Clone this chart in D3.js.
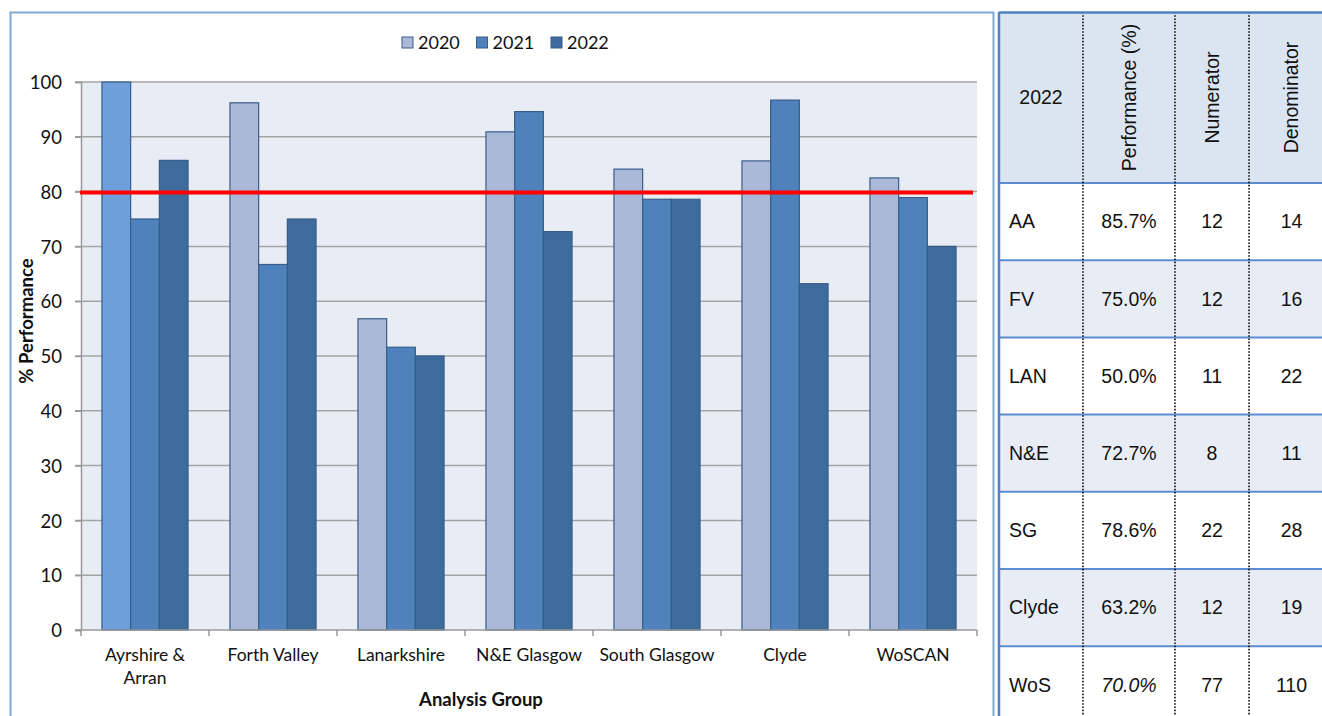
<!DOCTYPE html>
<html>
<head>
<meta charset="utf-8">
<script src="https://cdn.jsdelivr.net/npm/d3@7"></script>
<style>
    body { margin: 0; background: #fff; }
    svg { display: block; }
    .chart-text { font-family: Lato, "Open Sans", sans-serif; fill: #111; }
    .table-text { font-family: "Liberation Sans", Arial, sans-serif; fill: #111; }
</style>
</head>
<body>
<svg id="chart"></svg>
<script>
// chart data
const groups = ["Ayrshire & Arran", "Forth Valley", "Lanarkshire", "N&E Glasgow", "South Glasgow", "Clyde", "WoSCAN"];
const years = ["2020", "2021", "2022"];
const values2020 = [100, 96.2, 56.8, 90.9, 84.1, 85.6, 82.5];
const values2021 = [75, 66.7, 51.6, 94.6, 78.6, 96.7, 78.9];
const values2022 = [85.7, 75.0, 50.0, 72.7, 78.6, 63.2, 70.0];
const yTicks = [0, 10, 20, 30, 40, 50, 60, 70, 80, 90, 100];
const targetValue = 80;

// table data (2022)
const tableHeaders = ["2022", "Performance (%)", "Numerator", "Denominator"];
const tableCodes = ["AA", "FV", "LAN", "N&E", "SG", "Clyde", "WoS"];
const numerators = [12, 12, 11, 8, 22, 12, 77];
const denominators = [14, 16, 22, 11, 28, 19, 110];

const seriesByYear = { "2020": values2020, "2021": values2021, "2022": values2022 };

class GroupedBarChart {

    constructor(_config) {
        this.config = {
            parentElement: _config.parentElement,
            containerWidth: 1322,
            containerHeight: 716,
            plot: { left: 81, right: 977, top: 82, bottom: 630 },
            table: { left: 999, top: 12, headerHeight: 171, rowHeight: 77.2, columns: [999, 1083, 1175, 1249, 1334] },
        };
        this.initVis();
    }

    initVis() {
        const c = this.config;
        this.svg = d3.select(c.parentElement)
            .attr("width", c.containerWidth)
            .attr("height", c.containerHeight);

        this.x0 = d3.scaleBand().domain(groups).range([c.plot.left, c.plot.right]);
        this.x1 = d3.scaleBand().domain(years).range([0, this.x0.bandwidth()]).paddingOuter(0.73);
        this.y = d3.scaleLinear().domain([0, 100]).range([c.plot.bottom, c.plot.top]);
        this.colour = d3.scaleOrdinal().domain(years).range(["#aab9d7", "#4f81bd", "#3f6a9c"]);

        this.renderChart();
        this.renderTable();
    }

    renderChart() {
        const c = this.config;
        const chart = this.svg.append("g");

        // chart frame
        chart.append("rect")
            .attr("x", 10.5).attr("y", 12.5)
            .attr("width", 983).attr("height", 720)
            .attr("fill", "none")
            .attr("stroke", "#7ea6d6")
            .attr("stroke-width", 2);

        // plot background
        chart.append("rect")
            .attr("x", c.plot.left).attr("y", c.plot.top)
            .attr("width", c.plot.right - c.plot.left)
            .attr("height", c.plot.bottom - c.plot.top)
            .attr("fill", "#e8edf5");

        // gridlines
        chart.append("g")
            .selectAll("line")
            .data(yTicks.filter(d => d > 0))
            .join("line")
            .attr("x1", c.plot.left - 6).attr("x2", c.plot.right)
            .attr("y1", d => this.y(d)).attr("y2", d => this.y(d))
            .attr("stroke", "#a3a3a3")
            .attr("stroke-width", 1.5);

        // y axis
        const yAxis = chart.append("g")
            .attr("transform", `translate(${c.plot.left},0)`)
            .call(d3.axisLeft(this.y).tickValues(yTicks).tickSize(6).tickPadding(13));
        yAxis.select(".domain").attr("stroke", "#999").attr("stroke-width", 1.5);
        yAxis.selectAll(".tick line").attr("stroke", "#999").attr("stroke-width", 1.5);
        yAxis.selectAll(".tick text")
            .attr("class", "chart-text")
            .attr("font-size", 18.5)
            .attr("dy", "0.36em");

        // bars
        const barData = groups.flatMap((g, i) => years.map(yr => ({ group: g, year: yr, value: seriesByYear[yr][i] })));
        chart.append("g")
            .selectAll("rect")
            .data(barData)
            .join("rect")
            .attr("x", d => this.x0(d.group) + this.x1(d.year))
            .attr("y", d => this.y(d.value))
            .attr("width", this.x1.bandwidth())
            .attr("height", d => this.y(0) - this.y(d.value))
            .attr("fill", d => (d.group === groups[0] && d.year === "2020") ? "#6f9fda" : this.colour(d.year))
            .attr("stroke", "#385d8a")
            .attr("stroke-width", 1.2);

        // x axis
        const xAxis = chart.append("g")
            .attr("transform", `translate(0,${c.plot.bottom})`);
        xAxis.append("line")
            .attr("x1", c.plot.left - 6).attr("x2", c.plot.right)
            .attr("stroke", "#999").attr("stroke-width", 1.5);
        xAxis.selectAll(".xtick")
            .data(groups.map(g => this.x0(g)).concat([c.plot.right]))
            .join("line")
            .attr("class", "xtick")
            .attr("x1", d => d).attr("x2", d => d)
            .attr("y1", 0).attr("y2", 6)
            .attr("stroke", "#999").attr("stroke-width", 1.5);

        const labels = xAxis.selectAll(".xlabel")
            .data(groups)
            .join("text")
            .attr("class", "chart-text xlabel")
            .attr("font-size", 17.5)
            .attr("text-anchor", "middle")
            .attr("x", d => this.x0(d) + this.x0.bandwidth() / 2)
            .attr("y", 31);
        labels.each(function (d) {
            const lines = d === "Ayrshire & Arran" ? ["Ayrshire &", "Arran"] : [d];
            const t = d3.select(this);
            lines.forEach((l, i) => {
                t.append("tspan")
                    .attr("x", t.attr("x"))
                    .attr("dy", i === 0 ? 0 : 23)
                    .text(l);
            });
        });

        // target line
        chart.append("line")
            .attr("x1", c.plot.left - 1).attr("x2", c.plot.right - 4)
            .attr("y1", this.y(targetValue) + 1).attr("y2", this.y(targetValue) + 1)
            .attr("stroke", "#ff0000")
            .attr("stroke-width", 4);

        // axis titles
        chart.append("text")
            .attr("class", "chart-text")
            .attr("font-size", 18.5)
            .attr("font-weight", "bold")
            .attr("text-anchor", "middle")
            .attr("x", 481)
            .attr("y", 706)
            .text("Analysis Group");

        chart.append("text")
            .attr("class", "chart-text")
            .attr("font-size", 18.5)
            .attr("font-weight", "bold")
            .attr("text-anchor", "middle")
            .attr("transform", "translate(33,321) rotate(-90)")
            .text("% Performance");

        // legend
        const legend = chart.append("g")
            .selectAll("g")
            .data(years)
            .join("g")
            .attr("transform", (d, i) => `translate(${402 + i * 74.5},37)`);
        legend.append("rect")
            .attr("width", 11).attr("height", 11)
            .attr("fill", d => this.colour(d))
            .attr("stroke", "#385d8a")
            .attr("stroke-width", 1);
        legend.append("text")
            .attr("class", "chart-text")
            .attr("font-size", 18)
            .attr("x", 16)
            .attr("y", 11.5)
            .text(d => d);
    }

    renderTable() {
        const t = this.config.table;
        const cols = t.columns;
        const table = this.svg.append("g");
        const rowTop = i => t.top + t.headerHeight + i * t.rowHeight;
        const bottom = rowTop(tableCodes.length);

        // header fill
        table.append("rect")
            .attr("x", cols[0]).attr("y", t.top)
            .attr("width", cols[4] - cols[0]).attr("height", t.headerHeight)
            .attr("fill", "#dbe5f1");

        // row fills
        table.append("g")
            .selectAll("rect")
            .data(tableCodes)
            .join("rect")
            .attr("x", cols[0]).attr("y", (d, i) => rowTop(i))
            .attr("width", cols[4] - cols[0]).attr("height", t.rowHeight)
            .attr("fill", (d, i) => i % 2 === 1 ? "#e8edf5" : "#ffffff");

        // horizontal rules
        table.append("g")
            .selectAll("line")
            .data(d3.range(tableCodes.length + 1))
            .join("line")
            .attr("x1", cols[0]).attr("x2", cols[4])
            .attr("y1", i => rowTop(i)).attr("y2", i => rowTop(i))
            .attr("stroke", "#5a8ccf")
            .attr("stroke-width", 2);

        // dotted column rules
        table.append("g")
            .selectAll("line")
            .data(cols.slice(1, 4))
            .join("line")
            .attr("x1", d => d).attr("x2", d => d)
            .attr("y1", t.top).attr("y2", bottom)
            .attr("stroke", "#111")
            .attr("stroke-width", 1.6)
            .attr("stroke-dasharray", "1.6,1.6");

        // outer frame
        table.append("line")
            .attr("x1", cols[0]).attr("x2", cols[4])
            .attr("y1", t.top + 0.5).attr("y2", t.top + 0.5)
            .attr("stroke", "#4f81bd").attr("stroke-width", 2.5);
        table.append("line")
            .attr("x1", cols[0]).attr("x2", cols[0])
            .attr("y1", t.top).attr("y2", bottom)
            .attr("stroke", "#4f81bd").attr("stroke-width", 2.5);

        // header texts
        table.append("text")
            .attr("class", "table-text")
            .attr("font-size", 19.5)
            .attr("text-anchor", "middle")
            .attr("dy", "0.35em")
            .attr("x", (cols[0] + cols[1]) / 2)
            .attr("y", t.top + t.headerHeight / 2)
            .text(tableHeaders[0]);
        table.append("g")
            .selectAll("text")
            .data(tableHeaders.slice(1))
            .join("text")
            .attr("class", "table-text")
            .attr("font-size", 19.5)
            .attr("text-anchor", "middle")
            .attr("dy", "0.35em")
            .attr("transform", (d, i) => `translate(${(cols[i + 1] + cols[i + 2]) / 2},${t.top + t.headerHeight / 2}) rotate(-90)`)
            .text(d => d);

        // body texts
        const rows = table.append("g")
            .selectAll("g")
            .data(tableCodes.map((code, i) => ({ code, perf: values2022[i], num: numerators[i], den: denominators[i], last: i === tableCodes.length - 1 })))
            .join("g")
            .attr("transform", (d, i) => `translate(0,${rowTop(i) + t.rowHeight / 2})`);

        rows.append("text")
            .attr("class", "table-text")
            .attr("font-size", 19.5)
            .attr("dy", "0.35em")
            .attr("x", cols[0] + 10)
            .text(d => d.code);
        rows.append("text")
            .attr("class", "table-text")
            .attr("font-size", 19.5)
            .attr("text-anchor", "middle")
            .attr("dy", "0.35em")
            .attr("font-style", d => d.last ? "italic" : "normal")
            .attr("x", (cols[1] + cols[2]) / 2)
            .text(d => d.perf.toFixed(1) + "%");
        rows.append("text")
            .attr("class", "table-text")
            .attr("font-size", 19.5)
            .attr("text-anchor", "middle")
            .attr("dy", "0.35em")
            .attr("x", (cols[2] + cols[3]) / 2)
            .text(d => d.num);
        rows.append("text")
            .attr("class", "table-text")
            .attr("font-size", 19.5)
            .attr("text-anchor", "middle")
            .attr("dy", "0.35em")
            .attr("x", (cols[3] + cols[4]) / 2)
            .text(d => d.den);
    }
}

new GroupedBarChart({ parentElement: "#chart" });
</script>
</body>
</html>
